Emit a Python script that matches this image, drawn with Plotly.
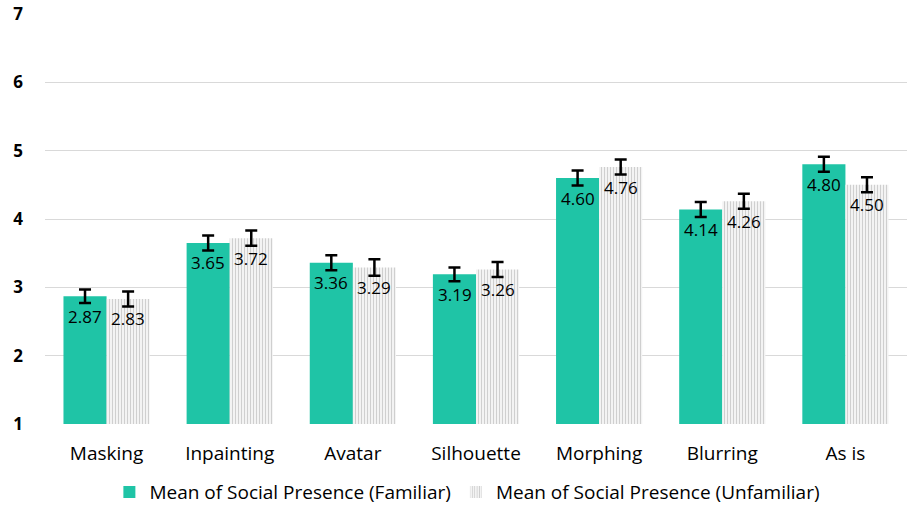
import plotly.graph_objects as go

categories = ["Masking", "Inpainting", "Avatar", "Silhouette", "Morphing", "Blurring", "As is"]
familiar = [2.87, 3.65, 3.36, 3.19, 4.60, 4.14, 4.80]
unfamiliar = [2.83, 3.72, 3.29, 3.26, 4.76, 4.26, 4.50]
familiar_err = [0.10, 0.11, 0.11, 0.10, 0.11, 0.11, 0.11]
unfamiliar_err = [0.11, 0.11, 0.12, 0.11, 0.11, 0.11, 0.11]
y_ticks = [1, 2, 3, 4, 5, 6, 7]

FONT = "Open Sans"
GREEN = "#1fc4a6"

fig = go.Figure()
fig.add_trace(go.Bar(
    name="Mean of Social Presence (Familiar)",
    x=categories, y=familiar, base=0,
    marker=dict(color=GREEN, line=dict(width=0)),
    error_y=dict(type="data", array=familiar_err, color="black", thickness=2.5, width=6),
))
fig.add_trace(go.Bar(
    name="Mean of Social Presence (Unfamiliar)",
    x=categories, y=unfamiliar, base=0,
    marker=dict(color="white", line=dict(width=0),
                pattern=dict(shape="|", fgcolor="#a0a0a0", bgcolor="white", size=3, solidity=0.5)),
    error_y=dict(type="data", array=unfamiliar_err, color="black", thickness=2.5, width=6),
))

# value labels sit just below the top of each bar
for series, shift in ((familiar, -21.5), (unfamiliar, 21.5)):
    for cat, val in zip(categories, series):
        fig.add_annotation(x=cat, y=val, text=f"{val:.2f}", showarrow=False,
                           xshift=shift, yshift=-20, yanchor="middle",
                           font=dict(size=17, family=FONT, color="black"))

fig.update_layout(
    width=907, height=510,
    margin=dict(l=45, r=0, t=14, b=86, autoexpand=False),
    paper_bgcolor="white", plot_bgcolor="white",
    barmode="group", bargap=0.3, bargroupgap=0.0,
    font=dict(family=FONT, size=17, color="black"),
    legend=dict(orientation="h", x=0.49, xanchor="center", y=-0.12, yanchor="top",
                font=dict(size=19, family=FONT), itemwidth=30, traceorder="normal"),
    showlegend=True,
)
fig.update_yaxes(range=[1, 7], tickvals=y_ticks, showgrid=True, gridcolor="#d9d9d9", gridwidth=1,
                 zeroline=False, showline=False, ticks="", automargin=False,
                 tickfont=dict(size=17, family=FONT, color="black", weight="bold"),
                 ticklabelstandoff=21)
fig.update_xaxes(showline=False, ticks="", ticklabelstandoff=16, automargin=False,
                 tickfont=dict(size=19, family=FONT, color="black"))

fig.write_html("out.html")
